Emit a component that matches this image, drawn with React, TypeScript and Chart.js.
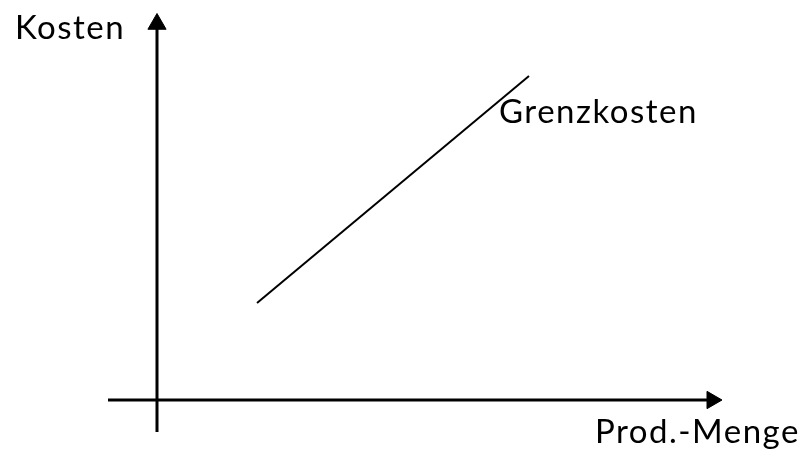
import React, { useEffect, useRef } from "react";
import { Chart, registerables } from "chart.js";

Chart.register(...registerables);

// Grenzkosten line (schematic): quantity vs. cost
const costX = [2.0, 7.44];
const costY = [1.94, 6.48];

// axes extents (data units)
const xAxisRange = [-0.98, 11.1];
const yAxisRange = [-0.64, 7.52];

// labels
const labelTexts = ["Kosten", "Grenzkosten", "Prod.-Menge"];
const labelX = [-2.84, 6.84, 8.76];
const labelY = [7.22, 5.54, -0.86];

const FONT = "33px Lato, 'Open Sans', sans-serif";

const labelPlugin = {
  id: "labels",
  afterDatasetsDraw(chart: any) {
    const { ctx, scales } = chart;
    ctx.save();
    ctx.fillStyle = "#000";
    ctx.font = FONT;
    try { (ctx as any).letterSpacing = "1.5px"; } catch (e) {}
    ctx.textAlign = "left";
    ctx.textBaseline = "alphabetic";
    labelTexts.forEach((t, i) => {
      ctx.fillText(t, scales.x.getPixelForValue(labelX[i]), scales.y.getPixelForValue(labelY[i]));
    });
    ctx.restore();
  },
};

export default function App() {
  const ref = useRef<HTMLCanvasElement>(null);
  useEffect(() => {
    if (!ref.current) return;
    const chart = new Chart(ref.current, {
      type: "scatter",
      data: {
        datasets: [
          {
            label: "Grenzkosten",
            data: costX.map((x, i) => ({ x, y: costY[i] })),
            showLine: true,
            borderColor: "#000",
            borderWidth: 2,
            pointRadius: 0,
          },
          {
            label: "x-axis",
            data: [{ x: xAxisRange[0], y: 0 }, { x: xAxisRange[1], y: 0 }],
            showLine: true,
            borderColor: "#000",
            borderWidth: 3,
            pointRadius: [0, 10],
            pointStyle: "triangle",
            rotation: 90,
            pointBackgroundColor: "#000",
            pointBorderColor: "#000",
            pointBorderWidth: 1,
          },
          {
            label: "y-axis",
            data: [{ x: 0, y: yAxisRange[0] }, { x: 0, y: yAxisRange[1] }],
            showLine: true,
            borderColor: "#000",
            borderWidth: 3,
            pointRadius: [0, 10.5],
            pointStyle: "triangle",
            rotation: 0,
            pointBackgroundColor: "#000",
            pointBorderColor: "#000",
            pointBorderWidth: 1,
          },
        ],
      },
      options: {
        animation: false,
        responsive: false,
        maintainAspectRatio: false,
        layout: { padding: 0, autoPadding: false },
        plugins: { legend: { display: false }, tooltip: { enabled: false } },
        scales: {
          x: { type: "linear", display: false, min: -3.14, max: 13.1 },
          y: { type: "linear", display: false, min: -1.06, max: 8 },
        },
      },
      plugins: [labelPlugin],
    });
    return () => chart.destroy();
  }, []);
  return (
    <div style={{ position: "fixed", left: 0, top: 0, width: 812, height: 453, background: "#fff" }}>
      <canvas ref={ref} width={812} height={453} style={{ display: "block" }} />
    </div>
  );
}
